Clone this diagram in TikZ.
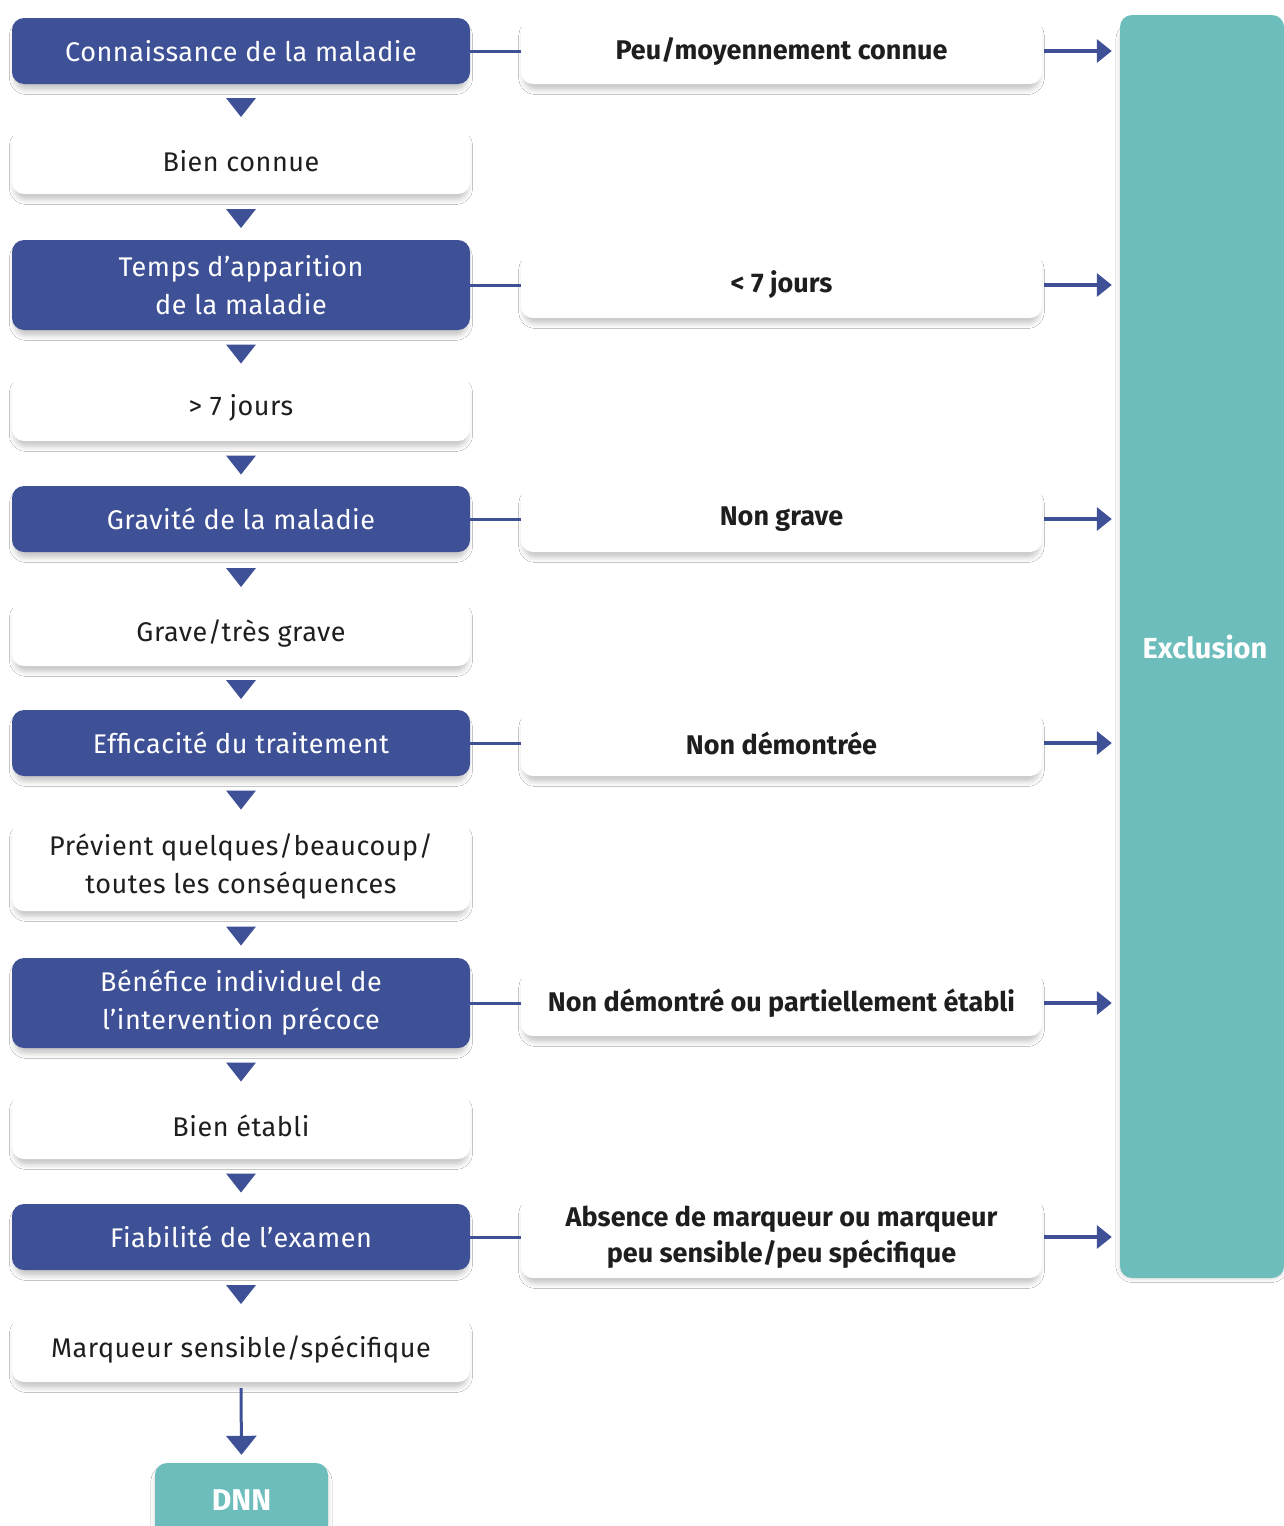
\documentclass[tikz,border=0pt]{standalone}
\usepackage{fontspec}
\setmainfont{Fira Sans}
\newfontfamily\lfont[LetterSpace=2]{Fira Sans}
\usetikzlibrary{shadows.blur,arrows.meta,calc}
\definecolor{dblue}{HTML}{3F5196}
\definecolor{tealx}{HTML}{6CBDBC}
\definecolor{ink}{HTML}{1E1E1E}
\begin{document}
\begin{tikzpicture}[x=1pt,y=-1pt,
  softshadow/.style={blur shadow={shadow xshift=0pt, shadow yshift=-6pt, shadow blur radius=5pt, shadow opacity=22, shadow scale=0.99}},
  box/.style={rounded corners=12pt, minimum width=458pt, align=center, inner sep=0pt, softshadow},
  qbox/.style={box, fill=dblue, text=white, font=\lfont\fontsize{27}{38}\selectfont},
  abox/.style={box, fill=white, text=ink, font=\lfont\fontsize{27}{38}\selectfont},
  rbox/.style={box, fill=white, minimum width=521pt, text=ink, font=\bfseries\fontsize{27}{36}\selectfont},
  one/.style={minimum height=66pt},
  two/.style={minimum height=90pt},
  link/.style={draw=dblue, line width=3pt},
  toexcl/.style={draw=dblue, line width=3.5pt, shorten <=2pt, shorten >=8pt, -{Triangle[length=15pt,width=23pt]}},
  downtri/.style={fill=dblue},
]
\useasboundingbox (0,0) rectangle (1284,1526);
\fill[white] (0,0) rectangle (1284,1526);

% exclusion bar
\node[fill=tealx, rounded corners=12pt, minimum width=164pt, minimum height=1263pt, inner sep=0pt, softshadow]
  (excl) at (1202,646.5) {};
\node[text=white, font=\bfseries\fontsize{29}{32}\selectfont] (excltxt) at (1205,647) {Exclusion};

% left column
\node[qbox,one] (q1) at (241,51) {Connaissance de la maladie};
\node[abox,one] (a1) at (241,161) {Bien connue};
\node[qbox,two] (q2) at (241,285) {Temps d’apparition\\de la maladie};
\node[abox,one] (a2) at (241,408) {> 7 jours};
\node[qbox,one] (q3) at (241,519) {Gravité de la maladie};
\node[abox,one] (a3) at (241,633) {Grave/très grave};
\node[qbox,one] (q4) at (241,743) {Efficacité du traitement};
\node[abox,two] (a4) at (241,866) {Prévient quelques/beaucoup/\\toutes les conséquences};
\node[qbox,two] (q5) at (241,1003) {Bénéfice individuel de\\l’intervention précoce};
\node[abox,one] (a5) at (241,1126) {Bien établi};
\node[qbox,one] (q6) at (241,1237) {Fiabilité de l’examen};
\node[abox,one] (a6) at (241,1349) {Marqueur sensible/spécifique};
\node[box, fill=tealx, minimum width=173pt, minimum height=74pt, text=white,
  font=\bfseries\fontsize{30}{32}\selectfont] (dnn) at (241.5,1500) {DNN};

% right column
\node[rbox,one] (r1) at (781.5,51) {Peu/moyennement connue};
\node[rbox,one] (r2) at (781.5,285) {< 7 jours};
\node[rbox,one] (r3) at (781.5,519) {Non grave};
\node[rbox,one] (r4) at (781.5,743) {Non démontrée};
\node[rbox,one] (r5) at (781.5,1003) {Non démontré ou partiellement établi};
\node[rbox,minimum height=82pt] (r6) at (781.5,1237) {Absence de marqueur ou marqueur\\peu sensible/peu spécifique};

% links
\foreach \i in {1,...,6} {
  \draw[link] (q\i.east) -- (r\i.west);
  \draw[toexcl] (r\i.east) -- (r\i.east -| excl.west);
}

% down triangles
\foreach \u/\v in {q1/a1,a1/q2,q2/a2,a2/q3,q3/a3,a3/q4,q4/a4,a4/q5,q5/a5,a5/q6,q6/a6} {
  \fill[downtri] ($(\u.south)!0.5!(\v.north)+(-15,-8)$) -- ++(30,0) -- ++(-15,19) -- cycle;
}

% final arrow
\draw[draw=dblue, line width=3pt, shorten <=6pt, shorten >=8pt, -{Triangle[length=19pt,width=30pt]}] (a6.south) -- (dnn.north);
\end{tikzpicture}
\end{document}
